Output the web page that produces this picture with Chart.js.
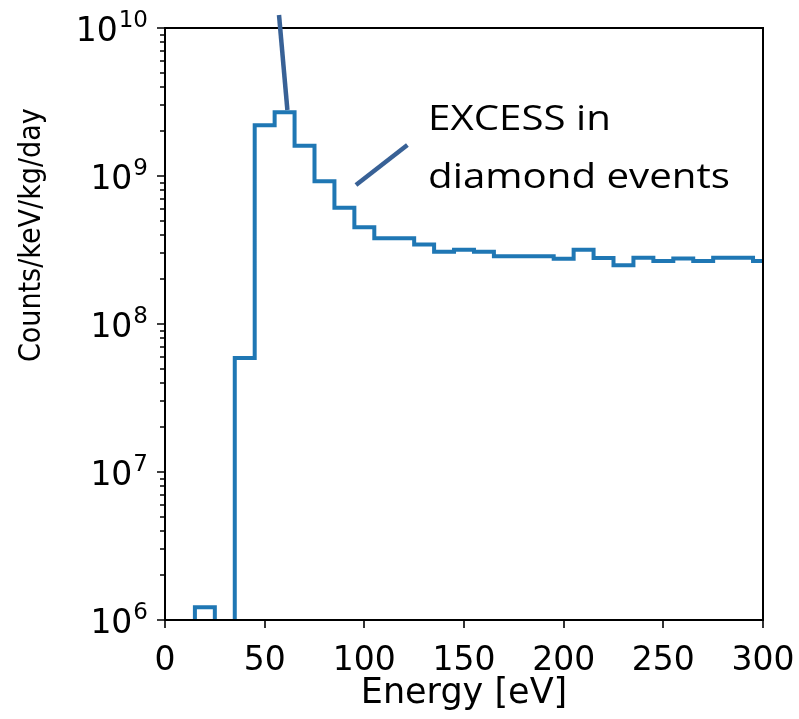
<!DOCTYPE html>
<html>
<head>
<meta charset="utf-8">
<script src="https://cdn.jsdelivr.net/npm/chart.js@4/dist/chart.umd.min.js"></script>
<style>
  html, body { margin: 0; padding: 0; background: #fff; }
  #wrap { width: 799px; height: 719px; }
</style>
</head>
<body>
<div id="wrap"><canvas id="spectrum"></canvas></div>
<script>
// Energy bins: left edges in eV, 10 eV wide
const binEdges = [5, 15, 25, 35, 45, 55, 65, 75, 85, 95, 105, 115, 125, 135, 145,
  155, 165, 175, 185, 195, 205, 215, 225, 235, 245, 255, 265, 275, 285, 295];
const lastEdge = 305;

// Rate per bin, counts/keV/kg/day (0 = empty bin)
const binRates = [0, 1.22e6, 0, 5.9e7, 2.2e9, 2.7e9, 1.6e9, 9.2e8, 6.1e8, 4.5e8,
  3.8e8, 3.8e8, 3.45e8, 3.08e8, 3.18e8, 3.08e8, 2.87e8, 2.87e8, 2.87e8, 2.76e8,
  3.18e8, 2.79e8, 2.49e8, 2.80e8, 2.67e8, 2.77e8, 2.67e8, 2.80e8, 2.80e8, 2.67e8];

const xTickValues = [0, 50, 100, 150, 200, 250, 300];
const yDecades = [6, 7, 8, 9, 10];
const yTitle = 'Counts/keV/kg/day';
const noteLines = ['EXCESS in', 'diamond events'];

// empty bins sit below the axis floor so the step drops out of view
const FLOOR = 1e5;
const steps = binEdges.map((e, i) => ({ x: e, y: binRates[i] > 0 ? binRates[i] : FLOOR }));
steps.push({ x: lastEdge, y: binRates[binRates.length - 1] });

const tickFont = { family: 'DejaVu Sans', size: 33 };

function noPadding(s) {
  s.paddingTop = 0;
  s.paddingBottom = 0;
  s.paddingLeft = 0;
  s.paddingRight = 0;
}

// frame, outward ticks, 10^n labels, y title and the pointers / note
const decorations = {
  id: 'decorations',
  afterDraw(chart) {
    const { ctx, chartArea: a, scales: { x, y } } = chart;
    ctx.save();
    ctx.strokeStyle = '#000';
    ctx.lineWidth = 2;
    ctx.strokeRect(a.left, a.top, a.right - a.left, a.bottom - a.top);

    ctx.beginPath();
    xTickValues.forEach(v => {
      const px = Math.round(x.getPixelForValue(v));
      ctx.moveTo(px, a.bottom);
      ctx.lineTo(px, a.bottom + 8);
    });
    y.ticks.forEach(t => {
      const py = Math.round(y.getPixelForValue(t.value));
      const len = t.major ? 8 : 5;
      ctx.moveTo(a.left, py);
      ctx.lineTo(a.left - len, py);
    });
    ctx.lineWidth = 1.6;
    ctx.stroke();

    // decade labels: "10" with a raised exponent
    ctx.fillStyle = '#000';
    ctx.textBaseline = 'alphabetic';
    ctx.textAlign = 'left';
    const right = a.left - 17;
    yDecades.forEach(e => {
      const py = y.getPixelForValue(Math.pow(10, e));
      ctx.font = '23px "DejaVu Sans"';
      const ew = ctx.measureText(String(e)).width;
      ctx.fillText(String(e), right - ew, py - 1);
      ctx.font = '33px "DejaVu Sans"';
      const bw = ctx.measureText('10').width;
      ctx.fillText('10', right - ew - bw - 1, py + 12.5);
    });

    // y title sits a little above the axis middle
    ctx.save();
    ctx.translate(32, a.top + (a.bottom - a.top) * 0.35);
    ctx.rotate(-Math.PI / 2);
    ctx.scale(1, 1.12);
    ctx.font = '27px "DejaVu Sans"';
    ctx.textAlign = 'center';
    ctx.textBaseline = 'middle';
    ctx.fillText(yTitle, 0, 0);
    ctx.restore();

    // pointer strokes, given in data units (x in eV, log10 of rate)
    const at = (ev, lg) => [x.getPixelForValue(ev), y.getPixelForValue(Math.pow(10, lg))];
    ctx.strokeStyle = '#386196';
    ctx.lineWidth = 4.5;
    [[[57.2, 10.088], [61.4, 9.446]], [[95.8, 8.939], [121.6, 9.209]]].forEach(seg => {
      const p0 = at(seg[0][0], seg[0][1]);
      const p1 = at(seg[1][0], seg[1][1]);
      ctx.beginPath();
      ctx.moveTo(p0[0], p0[1]);
      ctx.lineTo(p1[0], p1[1]);
      ctx.stroke();
    });

    ctx.font = '35px "Open Sans"';
    ctx.textAlign = 'left';
    ctx.textBaseline = 'alphabetic';
    [[132, 9.311], [132, 8.919]].forEach((p, i) => {
      const q = at(p[0], p[1]);
      ctx.save();
      ctx.translate(q[0], q[1]);
      ctx.scale(1.15, 1);
      ctx.fillText(noteLines[i], 0, 0);
      ctx.restore();
    });
    ctx.restore();
  }
};

new Chart(document.getElementById('spectrum'), {
  type: 'line',
  data: {
    datasets: [{
      data: steps,
      stepped: 'before',
      borderColor: '#1f77b4',
      borderWidth: 4,
      pointRadius: 0,
      fill: false,
      clip: 0
    }]
  },
  options: {
    responsive: true,
    maintainAspectRatio: false,
    animation: false,
    layout: { padding: { top: 28, right: 36, left: 0, bottom: 0 } },
    plugins: { legend: { display: false }, tooltip: { enabled: false } },
    scales: {
      x: {
        type: 'linear',
        min: 0,
        max: 300,
        afterBuildTicks: s => { s.ticks = xTickValues.map(v => ({ value: v })); },
        afterFit: s => { s.height = 99; noPadding(s); },
        grid: { display: false },
        border: { display: false },
        ticks: { font: tickFont, color: '#000', padding: 14, maxRotation: 0, autoSkip: false },
        title: {
          display: true,
          text: 'Energy [eV]',
          font: { family: 'DejaVu Sans', size: 35 },
          color: '#000',
          padding: { top: 0, bottom: 4 }
        }
      },
      y: {
        type: 'logarithmic',
        min: 1e6,
        max: 1e10,
        afterBuildTicks: s => {
          const ticks = [];
          yDecades.forEach(e => {
            for (let m = 1; m <= 9; m++) {
              if (e === 10 && m > 1) break;
              ticks.push({ value: m * Math.pow(10, e), major: m === 1 });
            }
          });
          s.ticks = ticks;
        },
        afterFit: s => { s.width = 165; noPadding(s); },
        grid: { display: false },
        border: { display: false },
        ticks: { display: false },
        title: { display: false }
      }
    }
  },
  plugins: [decorations]
});
</script>
</body>
</html>
